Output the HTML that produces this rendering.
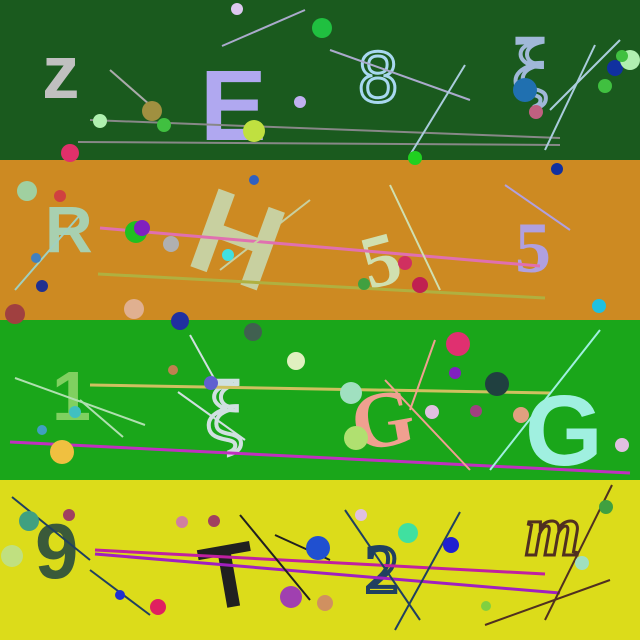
<!DOCTYPE html>
<html><head><meta charset="utf-8"><style>body{margin:0}svg{display:block}</style></head><body>
<svg width="640" height="640" xmlns="http://www.w3.org/2000/svg" font-family="Liberation Serif, serif">
<rect x="0" y="0" width="640" height="160" fill="#1a5a1e"/>
<rect x="0" y="160" width="640" height="160" fill="#cd8a22"/>
<rect x="0" y="320" width="640" height="160" fill="#1aa61a"/>
<rect x="0" y="480" width="640" height="160" fill="#dcdc1a"/>
<g font-weight="bold">
<text x="42" y="98" font-size="75" fill="#c0c0c0" font-family="Liberation Sans, sans-serif">z</text>
<text x="200" y="140" font-size="100" fill="#b0a8f0" font-family="Liberation Sans, sans-serif">E</text>
<text x="358" y="102" font-size="72" fill="none" stroke="#a8d8f0" stroke-width="3" font-weight="normal" font-family="Liberation Sans, sans-serif">8</text>
<text x="512" y="95" font-size="80" fill="none" stroke="#a0b8d8" stroke-width="4" font-weight="normal">ξ</text>
</g>
<g stroke-width="2" fill="none">
<line x1="90" y1="120" x2="560" y2="138" stroke="#888"/>
<line x1="78" y1="142" x2="560" y2="145" stroke="#888"/>
<line x1="222" y1="46" x2="305" y2="10" stroke="#aac"/>
<line x1="110" y1="70" x2="150" y2="105" stroke="#aaa"/>
<line x1="330" y1="50" x2="470" y2="100" stroke="#aac"/>
<line x1="410" y1="155" x2="465" y2="65" stroke="#acd"/>
<line x1="550" y1="110" x2="620" y2="40" stroke="#acd"/>
<line x1="545" y1="150" x2="595" y2="45" stroke="#acd"/>
</g>
<g>
<circle cx="237" cy="9" r="6" fill="#ddc8f0"/><circle cx="322" cy="28" r="10" fill="#20c040"/>
<circle cx="152" cy="111" r="10" fill="#a09040"/><circle cx="100" cy="121" r="7" fill="#b0f0b0"/>
<circle cx="164" cy="125" r="7" fill="#40c040"/><circle cx="254" cy="131" r="11" fill="#c0e040"/>
<circle cx="300" cy="102" r="6" fill="#c0b0f0"/><circle cx="70" cy="153" r="9" fill="#e0306a"/>
<circle cx="525" cy="90" r="12" fill="#2070b0"/><circle cx="536" cy="112" r="7" fill="#c06080"/>
<circle cx="615" cy="68" r="8" fill="#1030a0"/><circle cx="630" cy="60" r="10" fill="#b0f0b0"/>
<circle cx="605" cy="86" r="7" fill="#40c040"/><circle cx="622" cy="56" r="6" fill="#40c040"/>
<circle cx="415" cy="158" r="7" fill="#20d020"/>
</g>
<g font-weight="bold">
<text x="45" y="252" font-size="66" fill="#a8d0b0" font-family="Liberation Sans, sans-serif">R</text>
<text x="195" y="285" font-size="120" fill="#c8d0a0" transform="rotate(20 250 240)" font-family="Liberation Sans, sans-serif">H</text>
<text x="360" y="280" font-size="75" fill="#d0e0b0" transform="rotate(-15 400 250)">5</text>
<text x="515" y="272" font-size="72" fill="#b0a0e0">5</text>
</g>
<g stroke-width="3" fill="none">
<line x1="100" y1="228" x2="540" y2="266" stroke="#e070b0"/>
<line x1="98" y1="274" x2="545" y2="298" stroke="#b0b040"/>
<line x1="15" y1="290" x2="80" y2="215" stroke="#a0d0c0" stroke-width="2"/>
<line x1="220" y1="270" x2="310" y2="200" stroke="#c8d0a0" stroke-width="2"/>
<line x1="390" y1="185" x2="440" y2="290" stroke="#d0e0b0" stroke-width="2"/>
<line x1="505" y1="185" x2="570" y2="230" stroke="#b0a0e0" stroke-width="2"/>
</g>
<g>
<circle cx="27" cy="191" r="10" fill="#a0d0a0"/><circle cx="60" cy="196" r="6" fill="#d04040"/>
<circle cx="36" cy="258" r="5" fill="#4080c0"/><circle cx="42" cy="286" r="6" fill="#203090"/>
<circle cx="15" cy="314" r="10" fill="#a04040"/><circle cx="134" cy="309" r="10" fill="#e0b090"/>
<circle cx="180" cy="321" r="9" fill="#2030a0"/><circle cx="136" cy="232" r="11" fill="#20c020"/>
<circle cx="142" cy="228" r="8" fill="#8020c0"/><circle cx="171" cy="244" r="8" fill="#b0b0b0"/>
<circle cx="254" cy="180" r="5" fill="#3060c0"/><circle cx="228" cy="255" r="6" fill="#40e0e0"/>
<circle cx="405" cy="263" r="7" fill="#d03060"/><circle cx="420" cy="285" r="8" fill="#c02050"/>
<circle cx="364" cy="284" r="6" fill="#40a040"/><circle cx="557" cy="169" r="6" fill="#1030a0"/>
<circle cx="599" cy="306" r="7" fill="#20c0e0"/>
</g>
<g font-weight="bold">
<text x="52" y="420" font-size="70" fill="#80d060" font-family="Liberation Sans, sans-serif">1</text>
<text x="205" y="440" font-size="85" fill="none" stroke="#d0e0e0" stroke-width="4" font-weight="normal">ξ</text>
<text x="350" y="445" font-size="80" fill="#f0a090" transform="rotate(-10 390 410)">G</text>
<text x="525" y="465" font-size="100" fill="#a0f0e0" font-family="Liberation Sans, sans-serif">G</text>
</g>
<g stroke-width="3" fill="none">
<line x1="90" y1="385" x2="550" y2="393" stroke="#d0c060"/>
<line x1="10" y1="442" x2="630" y2="473" stroke="#c030c0"/>
<line x1="15" y1="378" x2="145" y2="425" stroke="#b0e0b0" stroke-width="2"/>
<line x1="80" y1="400" x2="123" y2="437" stroke="#b0e0b0" stroke-width="2"/>
<line x1="178" y1="392" x2="245" y2="440" stroke="#d0e0e0" stroke-width="2"/>
<line x1="190" y1="335" x2="215" y2="380" stroke="#d0e0e0" stroke-width="2"/>
<line x1="385" y1="380" x2="470" y2="470" stroke="#f0a090" stroke-width="2"/>
<line x1="410" y1="410" x2="435" y2="340" stroke="#f0a090" stroke-width="2"/>
<line x1="490" y1="470" x2="600" y2="330" stroke="#a0f0e0" stroke-width="2"/>
</g>
<g>
<circle cx="253" cy="332" r="9" fill="#406050"/><circle cx="296" cy="361" r="9" fill="#e0f0c0"/>
<circle cx="173" cy="370" r="5" fill="#c08050"/><circle cx="211" cy="383" r="7" fill="#6060d0"/>
<circle cx="75" cy="412" r="6" fill="#40c0c0"/><circle cx="42" cy="430" r="5" fill="#40a0c0"/>
<circle cx="62" cy="452" r="12" fill="#f0c040"/><circle cx="458" cy="344" r="12" fill="#e03070"/>
<circle cx="455" cy="373" r="6" fill="#8020c0"/><circle cx="497" cy="384" r="12" fill="#204040"/>
<circle cx="351" cy="393" r="11" fill="#a0e0c0"/><circle cx="356" cy="438" r="12" fill="#b0e070"/>
<circle cx="432" cy="412" r="7" fill="#e0c0e0"/><circle cx="476" cy="411" r="6" fill="#a04080"/>
<circle cx="521" cy="415" r="8" fill="#e0a080"/><circle cx="622" cy="445" r="7" fill="#e0c0e0"/>
</g>
<g font-weight="bold">
<text x="35" y="578" font-size="78" fill="#3a5a3a" font-family="Liberation Sans, sans-serif">9</text>
<text x="200" y="605" font-size="90" fill="#202020" transform="rotate(-10 240 570)" font-family="Liberation Sans, sans-serif">T</text>
<text x="365" y="592" font-size="68" fill="none" stroke="#204060" stroke-width="4" font-weight="normal">2</text>
<text x="525" y="555" font-size="72" fill="none" stroke="#503020" stroke-width="3" font-style="italic">m</text>
</g>
<g stroke-width="3" fill="none">
<line x1="95" y1="550" x2="545" y2="574" stroke="#c020a0"/>
<line x1="95" y1="554" x2="560" y2="593" stroke="#a020c0"/>
<line x1="12" y1="497" x2="90" y2="560" stroke="#204060" stroke-width="2"/>
<line x1="90" y1="570" x2="150" y2="615" stroke="#204060" stroke-width="2"/>
<line x1="240" y1="515" x2="310" y2="600" stroke="#202020" stroke-width="2"/>
<line x1="275" y1="535" x2="330" y2="560" stroke="#202020" stroke-width="2"/>
<line x1="345" y1="510" x2="420" y2="620" stroke="#204060" stroke-width="2"/>
<line x1="395" y1="630" x2="460" y2="512" stroke="#204060" stroke-width="2"/>
<line x1="485" y1="625" x2="610" y2="580" stroke="#503020" stroke-width="2"/>
<line x1="545" y1="620" x2="612" y2="485" stroke="#503020" stroke-width="2"/>
</g>
<g>
<circle cx="29" cy="521" r="10" fill="#40a080"/><circle cx="69" cy="515" r="6" fill="#a04060"/>
<circle cx="12" cy="556" r="11" fill="#c0e080"/><circle cx="120" cy="595" r="5" fill="#2030d0"/>
<circle cx="158" cy="607" r="8" fill="#e02060"/><circle cx="182" cy="522" r="6" fill="#d080a0"/>
<circle cx="214" cy="521" r="6" fill="#a04060"/><circle cx="318" cy="548" r="12" fill="#2050d0"/>
<circle cx="291" cy="597" r="11" fill="#a040b0"/><circle cx="325" cy="603" r="8" fill="#d09060"/>
<circle cx="361" cy="515" r="6" fill="#e0c0e0"/><circle cx="408" cy="533" r="10" fill="#40e0a0"/>
<circle cx="451" cy="545" r="8" fill="#2020d0"/><circle cx="486" cy="606" r="5" fill="#80d040"/>
<circle cx="582" cy="563" r="7" fill="#a0e0c0"/><circle cx="606" cy="507" r="7" fill="#40a040"/>
</g>
</svg>
</body></html>
